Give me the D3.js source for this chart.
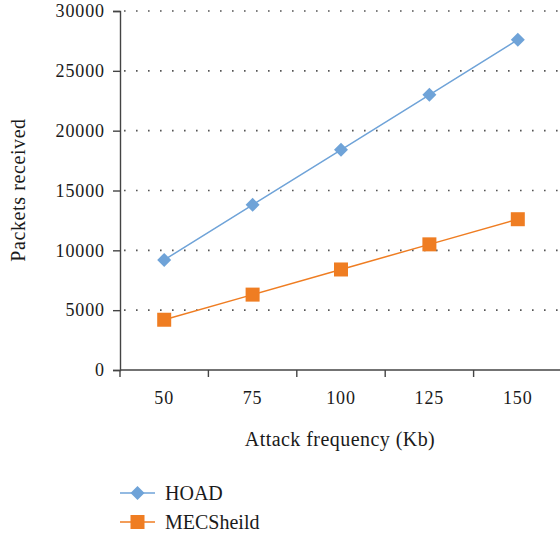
<!DOCTYPE html>
<html>
<head>
<meta charset="utf-8">
<script src="https://cdn.jsdelivr.net/npm/d3@7"></script>
<style>
  body { margin: 0; background: #fff; }
</style>
</head>
<body>
<svg id="chart" width="560" height="537"></svg>
<script>
// data
var categories = ["50", "75", "100", "125", "150"];
var hoad = [9200, 13800, 18400, 23000, 27600];
var mecsheild = [4200, 6300, 8400, 10500, 12600];
var yTicks = [0, 5000, 10000, 15000, 20000, 25000, 30000];

var series = [
  { name: "HOAD", values: hoad, color: "#6fa3d8", shape: "diamond" },
  { name: "MECSheild", values: mecsheild, color: "#ef7d22", shape: "square" }
];

var FONT = "'Liberation Serif', 'Times New Roman', serif";

var svg = d3.select("#chart");
var margin = { l: 120, t: 11, r: 0, b: 166 };
var width = 562 - margin.l;
var height = 370 - margin.t;

var g = svg.append("g").attr("transform", "translate(" + margin.l + "," + margin.t + ")");

var x = d3.scaleBand().domain(categories).range([0, width]);
var y = d3.scaleLinear().domain([0, 30000]).range([height, 0]);

// dotted gridlines
g.selectAll(".grid")
  .data(yTicks.filter(function(d) { return d > 0; }))
  .enter().append("line")
  .attr("class", "grid")
  .attr("x1", 4).attr("x2", width)
  .attr("y1", function(d) { return y(d); })
  .attr("y2", function(d) { return y(d); })
  .attr("stroke", "#555")
  .attr("stroke-width", 1.6)
  .attr("stroke-dasharray", "1.6,10.4");

// axes
var yAxis = g.append("g")
  .call(d3.axisLeft(y).tickValues(yTicks).tickSize(7).tickPadding(8).tickFormat(d3.format("d")));
var xAxis = g.append("g")
  .attr("transform", "translate(0," + height + ")")
  .call(d3.axisBottom(x).tickSize(0).tickPadding(21));

// x ticks sit on band boundaries
xAxis.selectAll(".edge")
  .data(categories)
  .enter().append("line")
  .attr("x1", function(d) { return x(d); })
  .attr("x2", function(d) { return x(d); })
  .attr("y1", 0).attr("y2", 7);

[yAxis, xAxis].forEach(function(a) {
  a.attr("font-family", null);
  a.selectAll("path").attr("stroke", "#444").attr("stroke-width", 1.4);
  a.selectAll("line").attr("stroke", "#444").attr("stroke-width", 1.4);
  a.selectAll("text")
    .style("font-family", FONT)
    .style("font-size", "18px")
    .style("letter-spacing", "0.9px")
    .attr("fill", "#1a1a1a");
});
xAxis.select(".domain").attr("d", "M0,0H" + width);

// lines and markers
var line = d3.line()
  .x(function(d, i) { return x(categories[i]) + x.bandwidth() / 2; })
  .y(function(d) { return y(d); });

function drawMarker(sel, shape, color) {
  if (shape === "diamond") {
    sel.append("path").attr("d", "M0,-7L7,0L0,7L-7,0Z").attr("fill", color);
  } else {
    sel.append("rect").attr("x", -7).attr("y", -7).attr("width", 14).attr("height", 14).attr("fill", color);
  }
}

series.forEach(function(s) {
  g.append("path")
    .datum(s.values)
    .attr("fill", "none")
    .attr("stroke", s.color)
    .attr("stroke-width", 1.5)
    .attr("d", line);

  s.values.forEach(function(v, i) {
    var m = g.append("g")
      .attr("transform", "translate(" + (x(categories[i]) + x.bandwidth() / 2) + "," + y(v) + ")");
    drawMarker(m, s.shape, s.color);
  });
});

// axis titles
svg.append("text")
  .attr("transform", "translate(25," + 190 + ") rotate(-90)")
  .attr("text-anchor", "middle")
  .style("font-family", FONT)
  .style("font-size", "20px")
  .style("letter-spacing", "0.6px")
  .attr("fill", "#1a1a1a")
  .text("Packets received");

svg.append("text")
  .attr("x", 340)
  .attr("y", 446)
  .attr("text-anchor", "middle")
  .style("font-family", FONT)
  .style("font-size", "20px")
  .style("letter-spacing", "0.45px")
  .attr("fill", "#1a1a1a")
  .text("Attack frequency (Kb)");

// legend
var legend = svg.append("g")
  .selectAll("g")
  .data(series)
  .enter().append("g")
  .attr("transform", function(d, i) { return "translate(120," + (493 + i * 29) + ")"; });

legend.append("line")
  .attr("x1", 0).attr("x2", 35)
  .attr("stroke", function(d) { return d.color; })
  .attr("stroke-width", 1.5);

legend.each(function(d) {
  var m = d3.select(this).append("g").attr("transform", "translate(17.5,0)");
  drawMarker(m, d.shape, d.color);
});

legend.append("text")
  .attr("x", 45)
  .attr("dy", "0.35em")
  .style("font-family", FONT)
  .style("font-size", "20px")
  .attr("fill", "#1a1a1a")
  .text(function(d) { return d.name; });
</script>
</body>
</html>
